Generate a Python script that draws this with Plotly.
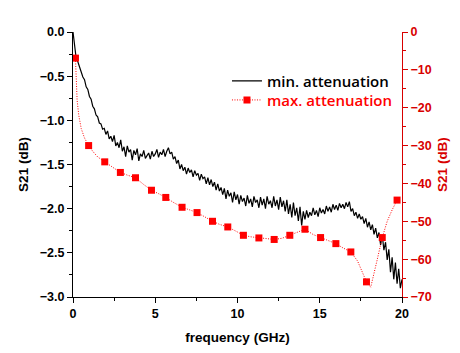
import plotly.graph_objects as go

# ---- data ----
freq_step = 0.1
s21_min = [
    0.00, -0.20, -0.31, -0.34, -0.40, -0.44, -0.51, -0.54, -0.62, -0.65,
    -0.73, -0.76, -0.84, -0.87, -0.94, -0.96, -1.03, -1.04, -1.10, -1.09,
    -1.16, -1.12, -1.21, -1.18, -1.24, -1.17, -1.29, -1.25, -1.31, -1.22,
    -1.35, -1.30, -1.41, -1.29, -1.36, -1.33, -1.45, -1.34, -1.39, -1.32,
    -1.46, -1.38, -1.41, -1.34, -1.43, -1.40, -1.37, -1.44, -1.35, -1.41,
    -1.38, -1.33, -1.42, -1.36, -1.39, -1.33, -1.41, -1.35, -1.31, -1.38,
    -1.36, -1.44, -1.41, -1.49, -1.45, -1.55, -1.50, -1.57, -1.53, -1.61,
    -1.54, -1.59, -1.56, -1.64, -1.57, -1.62, -1.60, -1.68, -1.61, -1.66,
    -1.64, -1.72, -1.65, -1.73, -1.67, -1.75, -1.70, -1.79, -1.72, -1.80,
    -1.76, -1.84, -1.77, -1.89, -1.79, -1.86, -1.82, -1.93, -1.81, -1.90,
    -1.84, -1.95, -1.85, -1.92, -1.88, -1.97, -1.85, -1.94, -1.89, -1.98,
    -1.86, -1.93, -1.90, -1.99, -1.87, -1.96, -1.89, -2.00, -1.86, -1.95,
    -1.91, -1.99, -1.86, -1.97, -1.90, -2.01, -1.87, -1.98, -1.91, -2.03,
    -1.90, -2.06, -1.95, -2.10, -1.93, -2.08, -1.99, -2.14, -1.98, -2.19,
    -2.03, -2.12, -2.02, -2.10, -2.04, -2.08, -1.99, -2.07, -2.02, -2.09,
    -1.99, -2.05, -2.01, -2.06, -1.97, -2.03, -1.98, -2.04, -1.95, -2.01,
    -1.96, -2.02, -1.94, -1.99, -1.95, -2.00, -1.93, -1.98, -1.92, -2.03,
    -2.00, -2.08, -2.04, -2.11, -2.06, -2.12, -2.09, -2.17, -2.11, -2.21,
    -2.15, -2.24, -2.18, -2.29, -2.22, -2.33, -2.27, -2.41, -2.30, -2.47,
    -2.38, -2.58, -2.46, -2.72, -2.55, -2.80, -2.61, -2.85, -2.68, -2.90,
    -2.80,
]
freq_min = [round(i * freq_step, 2) for i in range(len(s21_min))]

freq_max_line = [0.15, 0.2, 0.25, 0.35, 0.5, 0.7, 0.95, 1.2, 1.5, 1.93, 2.4, 2.88,
                 3.3, 3.8, 4.3, 4.77, 5.2, 5.64, 6.1, 6.63, 7.1, 7.54, 8.0, 8.48,
                 8.9, 9.41, 9.9, 10.36, 10.8, 11.3, 11.8, 12.23, 12.7, 13.18, 13.6,
                 14.1, 14.6, 15.05, 15.5, 15.98, 16.4, 16.89, 17.3, 17.6, 17.84,
                 18.1, 18.3, 18.5, 18.8, 19.1, 19.4, 19.7]
s21_max_line = [-7.0, -13.0, -18.0, -22.0, -25.5, -28.0, -30.0, -31.5, -33.0, -34.3,
                -35.8, -37.1, -37.8, -38.5, -40.3, -41.8, -42.7, -43.7, -45.0, -46.3,
                -47.0, -47.7, -48.8, -50.0, -50.8, -51.5, -52.6, -53.7, -54.1, -54.4,
                -54.6, -54.8, -54.5, -53.7, -53.0, -52.1, -53.5, -54.3, -55.0, -55.9,
                -57.0, -58.1, -60.5, -63.5, -66.0, -67.4, -64.0, -60.0, -54.3, -50.0,
                -47.0, -44.4]

freq_max_mark = [0.15, 0.95, 1.93, 2.88, 3.8, 4.77, 5.64, 6.63, 7.54, 8.48, 9.41,
                 10.36, 11.3, 12.23, 13.18, 14.1, 15.05, 15.98, 16.89, 17.84, 18.8, 19.7]
s21_max_mark = [-6.9, -30.0, -34.3, -37.1, -38.5, -41.8, -43.7, -46.3, -47.7, -50.0,
                -51.5, -53.7, -54.4, -54.8, -53.7, -52.1, -54.3, -55.9, -58.1, -66.0,
                -54.3, -44.4]

x_ticks = [0, 5, 10, 15, 20]
left_ticks = [0.0, -0.5, -1.0, -1.5, -2.0, -2.5, -3.0]
right_ticks = [0, -10, -20, -30, -40, -50, -60, -70]

RED = "#ff0000"
AXRED = "#d80000"
FAM = "Liberation Sans, Arial"
TICKFONT = dict(family=FAM, size=12.5, weight=700, color="black")
TITLEFONT = dict(family=FAM, size=13.5, weight=700, color="black")
LEGFONT_FAM = "Open Sans"

fig = go.Figure()
fig.add_trace(go.Scatter(x=freq_min, y=s21_min, mode="lines", name="min. attenuation",
                         line=dict(color="black", width=1.2), legend="legend"))
fig.add_trace(go.Scatter(x=freq_max_line, y=s21_max_line, mode="lines", yaxis="y2",
                         line=dict(color=RED, width=1, dash="1px,1.5px"), showlegend=False))
fig.add_trace(go.Scatter(x=freq_max_mark, y=s21_max_mark, mode="markers", yaxis="y2",
                         marker=dict(symbol="square", size=7, color=RED), showlegend=False))
fig.add_trace(go.Scatter(x=[None], y=[None], mode="lines+markers", yaxis="y2",
                         name="max. attenuation", legend="legend2",
                         line=dict(color=RED, width=1, dash="1px,1.5px"),
                         marker=dict(symbol="square", size=7, color=RED)))

fig.update_layout(
    width=460, height=353,
    margin=dict(l=73, r=58, t=32, b=56),
    paper_bgcolor="white", plot_bgcolor="white",
    xaxis=dict(range=[0, 20], tickvals=x_ticks, ticks="outside", ticklen=5, tickcolor="black",
               showline=True, linecolor="black", linewidth=1, showgrid=False, zeroline=False,
               tickfont=TICKFONT, title=dict(text="frequency (GHz)", font=TITLEFONT, standoff=12),
               minor=dict(dtick=2.5, ticks="outside", ticklen=3, tickcolor="black")),
    yaxis=dict(range=[-3, 0], tickvals=left_ticks, tickformat=".1f", ticks="outside", ticklen=5,
               tickcolor="black",
               showline=True, linecolor="black", linewidth=1, showgrid=False, zeroline=False,
               tickfont=TICKFONT, title=dict(text="S21 (dB)", font=TITLEFONT, standoff=8),
               minor=dict(dtick=0.25, ticks="outside", ticklen=3, tickcolor="black")),
    yaxis2=dict(range=[-70, 0], tickvals=right_ticks, overlaying="y", side="right",
                ticks="outside", ticklen=5, tickcolor=AXRED,
                showline=True, linecolor=AXRED, linewidth=1, showgrid=False, zeroline=False,
                tickfont=dict(family=FAM, size=12.5, weight=700, color=AXRED),
                title=dict(text="S21 (dB)", font=dict(family=FAM, size=13.5,
                                                        weight=700, color=AXRED), standoff=6),
                minor=dict(dtick=5, ticks="outside", ticklen=3, tickcolor=AXRED)),
    legend=dict(x=0.468, y=0.877, xanchor="left", yanchor="top", bgcolor="rgba(0,0,0,0)",
                font=dict(family=LEGFONT_FAM, size=15, weight=600, color="black")),
    legend2=dict(x=0.468, y=0.805, xanchor="left", yanchor="top", bgcolor="rgba(0,0,0,0)",
                 font=dict(family=LEGFONT_FAM, size=15, weight=600, color=RED)),
)

fig.write_html("out.html")
